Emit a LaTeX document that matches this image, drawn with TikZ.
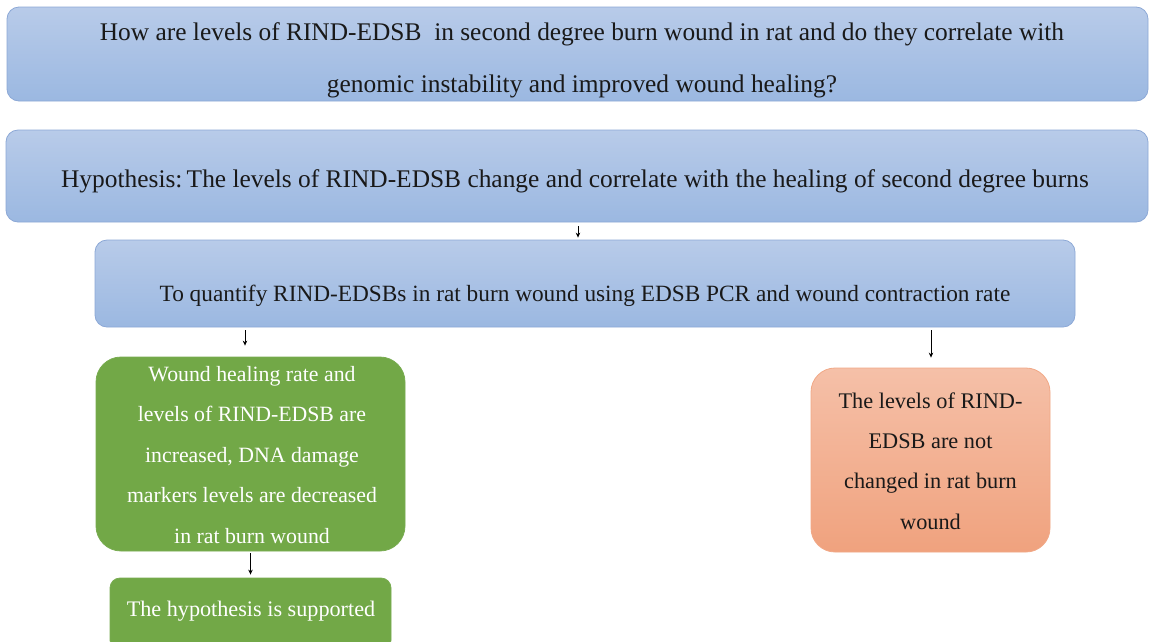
\documentclass[tikz,border=0pt]{standalone}
\usepackage{fontspec}
\setmainfont{Liberation Serif}
\usetikzlibrary{arrows.meta}
\definecolor{bluetop}{RGB}{184,203,233}
\definecolor{bluebot}{RGB}{155,184,225}
\definecolor{blueline}{RGB}{140,168,214}
\definecolor{greenfill}{RGB}{114,168,71}
\definecolor{greenline}{RGB}{120,172,80}
\definecolor{orangetop}{RGB}{245,192,168}
\definecolor{orangebot}{RGB}{240,162,126}
\definecolor{orangeline}{RGB}{241,168,134}
\begin{document}
\begin{tikzpicture}[x=1pt,y=-1pt,
  bluebox/.style={draw=blueline, line width=0.8pt, top color=bluetop, bottom color=bluebot,
    rounded corners=12pt, inner sep=0pt},
  greenbox/.style={draw=greenline, line width=0.8pt, fill=greenfill, inner sep=0pt},
  orangebox/.style={draw=orangeline, line width=0.8pt, top color=orangetop, bottom color=orangebot,
    rounded corners=24pt, inner sep=0pt},
  txt/.style={align=center, inner sep=0pt, text=black!90},
  wtxt/.style={txt, text=white},
  arr/.style={-{Stealth[length=5pt,width=4.5pt]}, line width=0.9pt, black}
]
\useasboundingbox (0,0) rectangle (1150,641);
\clip (0,0) rectangle (1150,641);
\fill[white] (0,0) rectangle (1150,641);

% boxes
\node[bluebox, minimum width=1141pt, minimum height=94pt] (qbox) at (577.5,54) {};
\node[bluebox, minimum width=1142pt, minimum height=92pt] (hyp) at (577,176) {};
\node[bluebox, minimum width=980pt, minimum height=87pt] (quant) at (585,283.5) {};
\node[greenbox, rounded corners=25pt, minimum width=309pt, minimum height=194pt] (green) at (250.5,454) {};
\node[greenbox, rounded corners=10pt, minimum width=281pt, minimum height=72pt] (supp) at (250.5,614) {};
\node[orangebox, minimum width=239pt, minimum height=184pt] (orange) at (930.5,460) {};

% texts
\node[txt, font=\fontsize{25.4pt}{52pt}\selectfont] (qtext) at (582,60)
  {How are levels of RIND-EDSB\ \ in second degree burn wound in rat and do they correlate with\\
   genomic instability and improved wound healing?};
\node[txt, font=\fontsize{25.4pt}{30pt}\selectfont] (hyptext) at (575,181)
  {Hypothesis:\,The levels of RIND-EDSB change and correlate with the healing of second degree burns};
\node[txt, font=\fontsize{23.3pt}{28pt}\selectfont] (quanttext) at (585,296)
  {To quantify RIND-EDSBs in rat burn wound using EDSB PCR and wound contraction rate};
\node[wtxt, font=\fontsize{21.8pt}{40.5pt}\selectfont] (greentext) at (252,455)
  {Wound healing rate and\\ levels of RIND-EDSB are\\ increased, DNA damage\\
   markers levels are decreased\\ in rat burn wound};
\node[wtxt, font=\fontsize{22.2pt}{27pt}\selectfont] (supptext) at (251,611)
  {The hypothesis is supported};
\node[txt, font=\fontsize{22.3pt}{40.3pt}\selectfont] (orangetext) at (930.5,461)
  {The levels of RIND-\\ EDSB are not\\ changed in rat burn\\ wound};

% connectors
\draw[arr, shorten <=4pt, shorten >=2pt] ([xshift=1pt]hyp.south) -- ([xshift=1pt]hyp.south |- quant.north);
\draw[arr, shorten <=3pt, shorten >=11pt] ([xshift=-340pt]quant.south) -- ([xshift=-340pt]quant.south |- green.north);
\draw[arr, shorten <=3pt, shorten >=10pt] ([xshift=346pt]quant.south) -- ([xshift=346pt]quant.south |- orange.north);
\draw[arr, shorten <=2pt, shorten >=3pt] (green.south) -- (green.south |- supp.north);
\end{tikzpicture}
\end{document}
